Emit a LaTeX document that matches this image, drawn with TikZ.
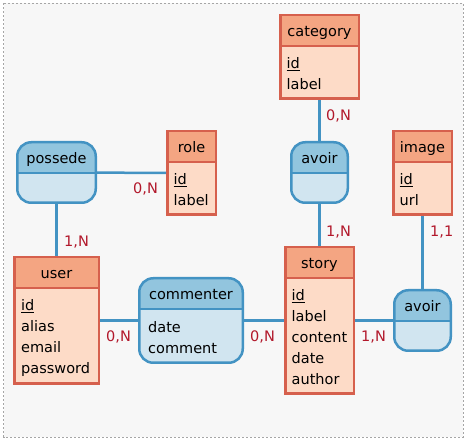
\documentclass[tikz,border=0pt]{standalone}
\usepackage{fontspec}
\setmainfont{DejaVu Sans}
\usepackage{tikz}
\usetikzlibrary{calc,positioning}

\definecolor{enttop}{HTML}{F4A582}
\definecolor{entbody}{HTML}{FDDBC7}
\definecolor{entline}{HTML}{D6604D}
\definecolor{asstop}{HTML}{92C5DE}
\definecolor{assbody}{HTML}{D1E5F0}
\definecolor{assline}{HTML}{4393C3}
\definecolor{cardtxt}{HTML}{B2182B}
\definecolor{backgr}{HTML}{F7F7F7}

\tikzset{
ent/.style={draw=entline, line width=2.5pt, fill=entbody, inner sep=0pt,
  path picture={
    \fill[enttop, sharp corners] (path picture bounding box.north west) rectangle ([yshift=-31pt]path picture bounding box.north east);
    \draw[entline, line width=2pt, sharp corners] ([yshift=-31pt]path picture bounding box.north west) -- ([yshift=-31pt]path picture bounding box.north east);}},
asso/.style={draw=assline, line width=2.5pt, fill=assbody, inner sep=0pt, rounded corners=14pt,
  path picture={
    \fill[asstop, sharp corners] (path picture bounding box.north west) rectangle ([yshift=-31pt]path picture bounding box.north east);
    \draw[assline, line width=2pt, sharp corners] ([yshift=-31pt]path picture bounding box.north west) -- ([yshift=-31pt]path picture bounding box.north east);}},
ttl/.style={anchor=base, inner sep=0pt, font=\fontsize{14.5}{21}\selectfont},
attr/.style={anchor=north west, inner sep=0pt, align=left, font=\fontsize{14.5}{21}\selectfont},
card/.style={anchor=base west, inner sep=0pt, text=cardtxt, font=\fontsize{14.5}{21}\selectfont},
link/.style={draw=assline, line width=2.5pt}
}

\begin{document}
\begin{tikzpicture}[x=1pt,y=-1pt]
\useasboundingbox (0,0) rectangle (467,441);
\draw[fill=backgr, draw=gray!70, line width=0.8pt, dash pattern=on 2pt off 2pt] (3.5,3.5) rectangle (463,437);

% entities
\node (category) at (319.5,57) [ent, minimum width=78.5pt, minimum height=83.5pt] {};
\node (role) at (191.5,173) [ent, minimum width=48.5pt, minimum height=83.5pt] {};
\node (image) at (422.5,173) [ent, minimum width=58.5pt, minimum height=83.5pt] {};
\node (user) at (56.5,320.5) [ent, minimum width=84.5pt, minimum height=126.5pt] {};
\node (story) at (319.5,320.5) [ent, minimum width=68.5pt, minimum height=146.5pt] {};

% associations
\node (possede) at (56.5,172.5) [asso, minimum width=78.5pt, minimum height=60.5pt] {};
\node (avoir1) at (319.5,172.5) [asso, minimum width=56.5pt, minimum height=60.5pt] {};
\node (commenter) at (191,320.5) [asso, minimum width=103.5pt, minimum height=84.5pt] {};
\node (avoir2) at (422.5,320.5) [asso, minimum width=56.5pt, minimum height=60.5pt] {};

% titles
\node (category-t) at (319.5,37) [ttl] {category};
\node (role-t) at (191.5,153) [ttl] {role};
\node (image-t) at (422.5,153) [ttl] {image};
\node (user-t) at (56.5,279) [ttl] {user};
\node (story-t) at (319.5,269) [ttl] {story};
\node (possede-t) at (56.5,164) [ttl] {possede};
\node (avoir1-t) at (319.5,164) [ttl] {avoir};
\node (commenter-t) at (191,300) [ttl] {commenter};
\node (avoir2-t) at (422.5,312) [ttl] {avoir};

% attributes
\node (category-a) at (286.5,57) [attr] {\underline{id}\\label};
\node (role-a) at (173.5,173) [attr] {\underline{id}\\label};
\node (image-a) at (399.5,173) [attr] {\underline{id}\\url};
\node (user-a) at (21,299) [attr] {\underline{id}\\alias\\email\\password};
\node (story-a) at (291.5,289) [attr] {\underline{id}\\label\\content\\date\\author};
\node (commenter-a) at (148,321) [attr] {date\\comment};

% links
\draw[link] (possede) edge (role);
\draw[link] (possede) edge (user);
\draw[link] (category) edge (avoir1);
\draw[link] (avoir1) edge (story);
\draw[link] (image) edge (avoir2);
\draw[link] (user) edge (commenter);
\draw[link] (commenter) edge (story);
\draw[link] (story) edge (avoir2);

% cardinalities
\node (c-role) at (133,194) [card] {0,N};
\node (c-category) at (326,121) [card] {0,N};
\node (c-story1) at (326,237) [card] {1,N};
\node (c-user1) at (64,247) [card] {1,N};
\node (c-user2) at (106,342) [card] {0,N};
\node (c-story2) at (250,342) [card] {0,N};
\node (c-story3) at (361,342) [card] {1,N};
\node (c-image) at (430,237) [card] {1,1};

\end{tikzpicture}
\end{document}
